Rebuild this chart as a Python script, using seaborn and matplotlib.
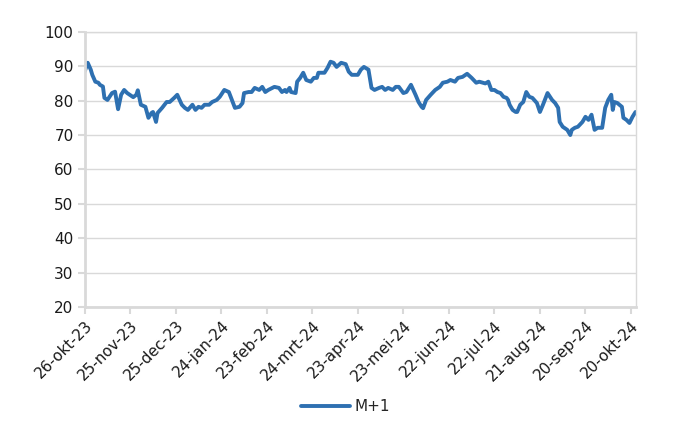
import matplotlib
matplotlib.use("Agg")
import matplotlib.pyplot as plt
import seaborn as sns
import pandas as pd
import numpy as np

# ---- data ----
start_date = "2023-10-26"
day_offsets = [0, 2, 4, 5, 7, 9, 10, 12, 13, 15, 18, 20, 22, 24, 26, 28, 32, 34, 35, 37,
               40, 42, 44, 45, 47, 48, 51, 54, 56, 59, 61, 64, 66, 68, 71, 73, 75, 77, 79, 82,
               84, 87, 89, 92, 95, 97, 99, 102, 104, 105, 108, 110, 112, 115, 117, 119, 121, 125, 128, 130,
               132, 133, 135, 136, 139, 140, 142, 144, 146, 149, 151, 153, 154, 158, 160, 162, 164, 166, 169, 172,
               174, 176, 177, 180, 182, 184, 187, 189, 191, 194, 196, 198, 200, 203, 205, 207, 210, 212, 215, 218,
               220, 222, 223, 225, 228, 231, 234, 236, 239, 241, 244, 246, 249, 252, 255, 258, 260, 264, 266, 268,
               270, 272, 274, 276, 278, 279, 280, 282, 284, 285, 287, 289, 291, 293, 295, 298, 300, 302, 305, 308,
               310, 312, 313, 315, 318, 320, 321, 323, 325, 328, 330, 332, 334, 336, 338, 341, 343, 345, 347, 348,
               349, 351, 354, 355, 357, 359, 361, 363]
m1_values = [88.5, 91.0, 89.0, 87.5, 85.5, 85.2, 84.6, 84.1, 80.8, 80.2, 82.2, 82.6, 77.5, 81.7, 83.1, 82.2, 81.0, 81.7, 83.0, 78.8,
             78.2, 75.0, 76.4, 76.7, 73.8, 76.4, 77.9, 79.6, 79.6, 80.8, 81.7, 78.8, 77.9, 77.3, 78.8, 77.3, 78.2, 77.9, 78.8, 78.8,
             79.6, 80.2, 81.1, 83.1, 82.5, 80.2, 77.9, 78.2, 79.3, 82.2, 82.5, 82.5, 83.7, 83.1, 84.0, 82.5, 83.1, 84.0, 83.7, 82.5,
             83.1, 82.5, 83.7, 82.5, 82.2, 85.5, 86.6, 88.1, 86.0, 85.5, 86.6, 86.6, 88.1, 88.1, 89.5, 91.3, 91.0, 89.8, 91.0, 90.6,
             88.4, 87.5, 87.5, 87.5, 89.0, 89.8, 89.0, 83.7, 83.1, 83.7, 84.0, 83.1, 83.7, 83.1, 84.0, 84.0, 82.2, 82.5, 84.6, 81.7,
             79.6, 78.2, 77.8, 80.2, 81.7, 83.1, 84.0, 85.2, 85.5, 86.0, 85.5, 86.6, 86.9, 87.8, 86.6, 85.2, 85.5, 85.0, 85.5, 83.1,
             83.1, 82.5, 82.2, 81.1, 80.8, 80.2, 78.8, 77.3, 76.7, 76.7, 78.8, 79.6, 82.5, 81.1, 80.8, 79.3, 76.7, 78.8, 82.2, 80.2,
             79.3, 77.9, 73.8, 72.4, 71.5, 70.0, 71.5, 72.1, 72.4, 73.8, 75.3, 74.4, 75.9, 71.5, 72.1, 72.1, 77.9, 80.2, 81.7, 77.3,
             79.6, 79.3, 78.2, 75.0, 74.4, 73.5, 75.3, 76.7]
series_name = "M+1"
tick_offsets = [0, 30, 60, 90, 120, 150, 180, 210, 240, 270, 300, 330, 360]
tick_labels = ["26-okt-23", "25-nov-23", "25-dec-23", "24-jan-24", "23-feb-24", "24-mrt-24",
               "23-apr-24", "23-mei-24", "22-jun-24", "22-jul-24", "21-aug-24", "20-sep-24", "20-okt-24"]
y_ticks = [20, 30, 40, 50, 60, 70, 80, 90, 100]

t0 = pd.Timestamp(start_date)
df = pd.DataFrame({"date": t0 + pd.to_timedelta(day_offsets, unit="D"),
                   "value": m1_values,
                   "series": series_name})

sns.set_theme(style="white")
plt.rcParams["font.family"] = ["DejaVu Sans"]

fig = plt.figure(figsize=(7, 4.3), dpi=100)
ax = fig.add_axes([0.121, 0.286, 0.788, 0.640])

sns.lineplot(data=df, x="date", y="value", hue="series", palette=["#2e70b1"],
             linewidth=2.8, ax=ax, legend=True)

ax.set_xlim(t0, t0 + pd.Timedelta(days=363.5))
ax.set_ylim(20, 100)
ax.set_yticks(y_ticks)
ax.set_yticklabels([str(v) for v in y_ticks], fontsize=11, color="#1a1a1a")
ax.set_xticks(t0 + pd.to_timedelta(tick_offsets, unit="D"))
ax.set_xticklabels(tick_labels, rotation=45, ha="right", rotation_mode="anchor",
                   fontsize=11, color="#1a1a1a")
ax.set_xlabel("")
ax.set_ylabel("")

ax.yaxis.grid(True, color="#d9d9d9", linewidth=1)
ax.xaxis.grid(False)
ax.set_axisbelow(True)
for side in ["left", "bottom"]:
    ax.spines[side].set_color("#d9d9d9")
    ax.spines[side].set_linewidth(2)
for side in ["top", "right"]:
    ax.spines[side].set_color("#d9d9d9")
    ax.spines[side].set_linewidth(1)
ax.tick_params(axis="x", which="both", bottom=True, length=5, width=1.5, color="#d9d9d9", pad=3)
ax.tick_params(axis="y", which="both", left=True, length=5, width=1.5, color="#d9d9d9", pad=3)

leg = ax.legend(loc="center", frameon=False, fontsize=11, handlelength=3.2, handletextpad=0.3)
leg.set_bbox_to_anchor((0.493, 0.054), transform=fig.transFigure)

fig.savefig("out.png", dpi=100)
